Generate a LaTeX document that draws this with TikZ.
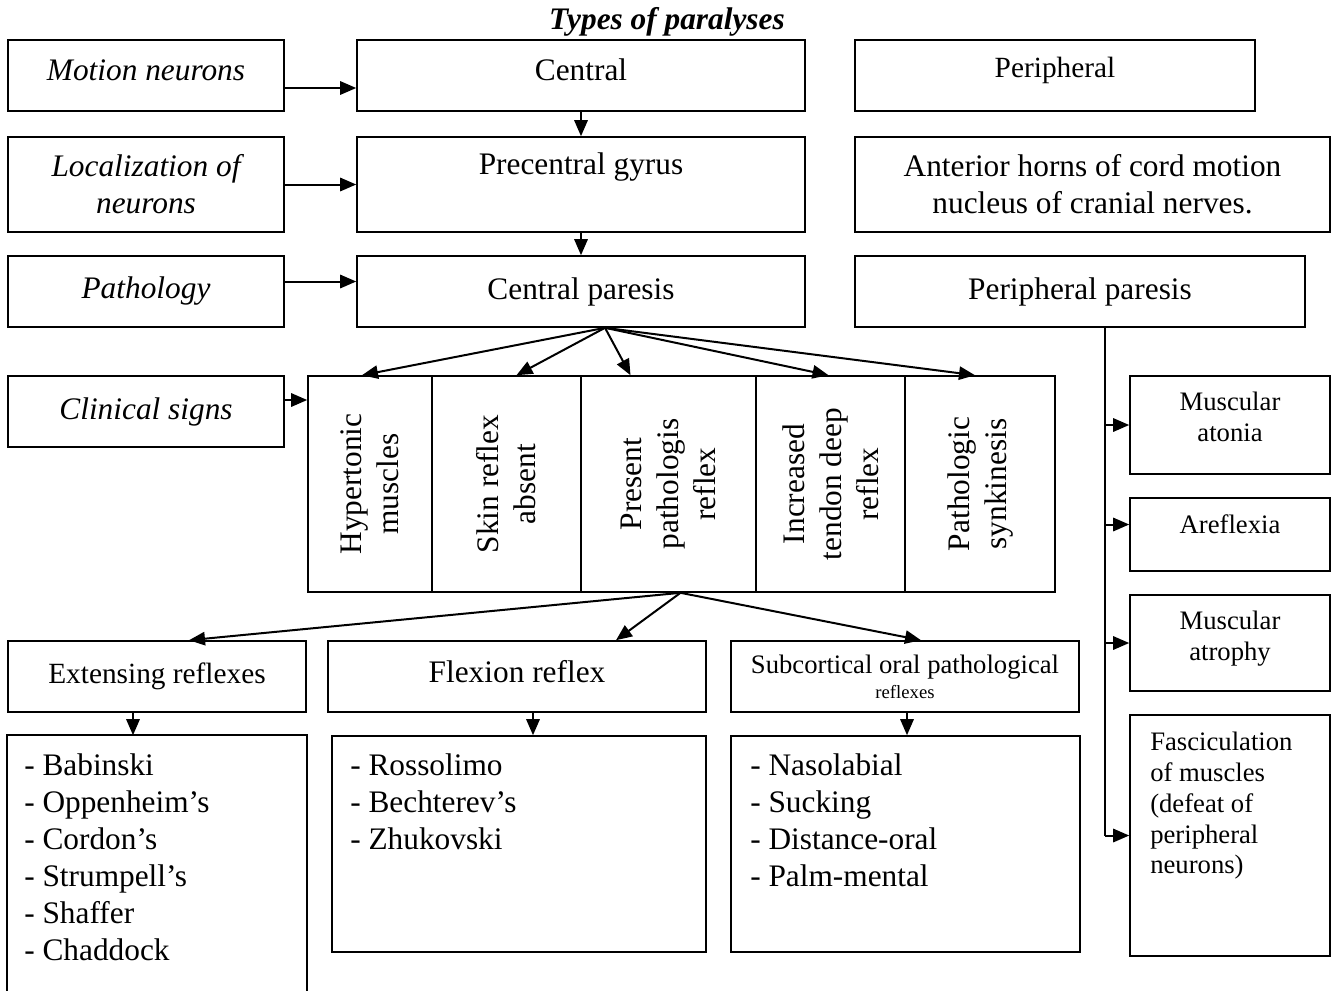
\documentclass[tikz,border=0pt]{standalone}
\usepackage{fontspec}
\setmainfont{Liberation Serif}
\usetikzlibrary{arrows.meta,calc}
\newcommand\fsz[2]{\fontsize{#1}{#2}\selectfont}
% \rbox[options]{name}{x1}{y1}{x2}{y2}{text}
\newcommand\rbox[7][]{\node[box,minimum width={(#5-#3)*0.75pt},minimum height={(#6-#4)*0.75pt},#1] (#2) at ({(#3+#5)/2},{(#4+#6)/2}) {#7};}
\begin{document}
\begin{tikzpicture}[x=0.75pt,y=-0.75pt,
  box/.style={draw,line width=1.2pt,inner sep=0pt,align=center},
  arr/.style={line width=1.5pt,-{Triangle[length=12pt,width=10pt]}},
  ln/.style={line width=1.5pt},
  bordr/.style={line width=1.2pt},
  big/.style={font=\fsz{23.5pt}{27.75pt}},
  bigit/.style={font=\fsz{23.5pt}{27.75pt}\itshape},
  med/.style={font=\fsz{20pt}{23.1pt}},
  lst/.style={font=\fsz{23.5pt}{27.75pt},align=left,anchor=north west,inner sep=0pt},
]
\useasboundingbox (0,0) rectangle (1337,990);
\node[font=\fsz{23.5pt}{28pt}\bfseries\itshape] (title) at (667,22) {Types of paralyses};

% left column
\rbox{motion}{8}{40}{284}{111}{}
\node[bigit] (motiont) at (146,70) {Motion neurons};
\rbox[bigit]{local}{8}{137}{284}{232}{Localization of\\neurons}
\rbox[bigit]{patho}{8}{256}{284}{327}{Pathology}
\rbox[bigit]{clin}{8}{376}{284}{447}{Clinical signs}

% central column
\rbox{central}{357}{40}{805}{111}{}
\node[big] (centralt) at (581,70) {Central};
\rbox{precentral}{357}{137}{805}{232}{}
\node[big] (precentralt) at (581,167) {Precentral gyrus};
\rbox[big]{cparesis}{357}{256}{805}{327}{Central paresis}

% right column
\rbox{periph}{855}{40}{1255}{111}{}
\node[font=\fsz{22pt}{26pt}] (periphtxt) at (1055,70) {Peripheral};
\rbox[big]{anterior}{855}{137}{1330}{232}{Anterior horns of cord motion\\nucleus of cranial nerves.}
\rbox[big]{pparesis}{855}{256}{1305}{327}{Peripheral paresis}

% clinical signs block
\rbox{c1}{308}{376}{432}{592}{}
\rbox{c2}{432}{376}{581}{592}{}
\rbox{c3}{581}{376}{756}{592}{}
\rbox{c4}{756}{376}{905}{592}{}
\rbox{c5}{905}{376}{1055}{592}{}
\node[big,rotate=90,align=center] (t1) at (c1) {Hypertonic\\muscles};
\node[big,rotate=90,align=center] (t2) at (c2) {Skin reflex\\absent};
\node[big,rotate=90,align=center] (t3) at (c3) {Present\\pathologis\\reflex};
\node[big,rotate=90,align=center] (t4) at (c4) {Increased\\tendon deep\\reflex};
\node[big,rotate=90,align=center] (t5) at (c5) {Pathologic\\synkinesis};

% reflex groups
\rbox[font=\fsz{22pt}{26pt}]{ext}{8}{641}{306}{712}{Extensing reflexes}
\rbox{flex}{328}{641}{706}{712}{}
\node[big] (flext0) at (517,672) {Flexion reflex};
\rbox[font=\fsz{20pt}{20pt}]{sub}{731}{641}{1079}{712}{Subcortical oral pathological\\[-1pt]{\fsz{14pt}{15pt}reflexes}}

% lists
\rbox[draw=none]{extl}{8}{736}{306}{990}{}
\draw[bordr] (extl.south west) -- (extl.north west) -- (extl.north east) -- (extl.south east);
\rbox{flexl}{332}{736}{706}{952}{}
\rbox{subl}{731}{736}{1080}{952}{}
\node[lst] (extt) at (24,753) {- Babinski\\- Oppenheim’s\\- Cordon’s\\- Strumpell’s\\- Shaffer\\- Chaddock};
\node[lst] (flext) at (350,753) {- Rossolimo\\- Bechterev’s\\- Zhukovski};
\node[lst] (subt) at (750,753) {- Nasolabial\\- Sucking\\- Distance-oral\\- Palm-mental};

% peripheral signs
\rbox{atonia}{1130}{376}{1330}{474}{}
\rbox{arefl}{1130}{498}{1330}{571}{}
\rbox{atrophy}{1130}{595}{1330}{691}{}
\rbox{fasc}{1130}{715}{1330}{956}{}
\node[med,align=center,anchor=north,inner sep=0pt] (atoniat) at ($(atonia.north)+(0,17)$) {Muscular\\atonia};
\node[med,align=center,anchor=north,inner sep=0pt] (areflt) at ($(arefl.north)+(0,17)$) {Areflexia};
\node[med,align=center,anchor=north,inner sep=0pt] (atrophyt) at ($(atrophy.north)+(0,17)$) {Muscular\\atrophy};
\node[med,align=left,anchor=north west,inner sep=0pt] (fasct) at (1150,732) {Fasciculation\\of muscles\\(defeat of\\peripheral\\neurons)};

% connectors: left to center
\draw[arr] ($(motion.east)+(0,12.5)$) -- ($(central.west)+(0,12.5)$);
\draw[arr] (local.east) -- (precentral.west);
\draw[arr] ($(patho.east)+(0,-10)$) -- ($(cparesis.west)+(0,-10)$);
\coordinate (ca) at ($(clin.east)+(0,-11.5)$);
\draw[arr] (ca) -- (ca -| c1.west);
\draw[arr] (central.south) -- (precentral.north);
\draw[arr] (precentral.south) -- (cparesis.north);

% fan to clinical signs
\coordinate (cpo) at ($(cparesis.south)+(24,0)$);
\draw[arr] (cpo) -- ($(c1.north)+(-8,0)$);
\draw[arr] (cpo) -- ($(c2.north)+(10,0)$);
\draw[arr] (cpo) -- ($(c3.north)+(-38,0)$);
\draw[arr] (cpo) -- ($(c4.north)+(-2,0)$);
\draw[arr] (cpo) -- ($(c5.north)+(-5,0)$);

% fan to reflex groups
\coordinate (bo) at ($(c3.south)+(12,0)$);
\draw[arr] (bo) -- ($(ext.north)+(32,0)$);
\draw[arr] (bo) -- ($(flex.north)+(99,0)$);
\draw[arr] (bo) -- ($(sub.north)+(16,0)$);

% down to lists
\draw[arr] ($(ext.south)+(-24,0)$) -- ($(extl.north)+(-24,0)$);
\draw[arr] ($(flex.south)+(16,0)$) -- ($(flexl.north)+(14,0)$);
\draw[arr] ($(sub.south)+(2,0)$) -- ($(subl.north)+(1.5,0)$);

% peripheral branch
\coordinate (vtop) at ($(pparesis.south)+(25,0)$);
\draw[ln] (vtop) -- (vtop |- fasc.west);
\draw[arr] (vtop |- atonia.west) -- (atonia.west);
\draw[arr] ($(vtop |- arefl.west)+(0,-10)$) -- ($(arefl.west)+(0,-10)$);
\draw[arr] (vtop |- atrophy.west) -- (atrophy.west);
\draw[arr] (vtop |- fasc.west) -- (fasc.west);
\end{tikzpicture}
\end{document}
